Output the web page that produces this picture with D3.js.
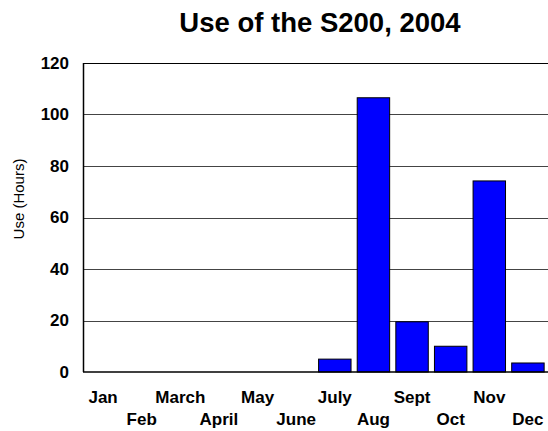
<!DOCTYPE html>
<html>
<head>
<meta charset="utf-8">
<script src="https://cdn.jsdelivr.net/npm/d3@7"></script>
<style>
  body { margin: 0; background: #fff; }
  svg { display: block; font-family: Arial, "Liberation Sans", sans-serif; }
</style>
</head>
<body>
<svg id="chart" width="548" height="431"></svg>
<script>
// chart data
let months = ['Jan', 'Feb', 'March', 'April', 'May', 'June', 'July', 'Aug', 'Sept', 'Oct', 'Nov', 'Dec'];
let hours = [0, 0, 0, 0, 0, 0, 5, 106.5, 19.5, 10, 74.2, 3.5];
let yTicks = [0, 20, 40, 60, 80, 100, 120];

var margin = {top: 63, right: 0, bottom: 59, left: 83},
    width = 548 - margin.left - margin.right,
    height = 431 - margin.top - margin.bottom;

var svg = d3.select('#chart');

var x = d3.scaleBand().domain(months).range([0, width]).paddingInner(0.16).paddingOuter(0.1);
var y = d3.scaleLinear().domain([0, 120]).range([height, 0]);

var g = svg.append('g')
  .attr('transform', 'translate(' + margin.left + ',' + margin.top + ')');

// horizontal grid lines
g.selectAll('.grid')
  .data(yTicks.filter(d => d > 0))
  .enter().append('line')
  .attr('class', 'grid')
  .attr('x1', 0)
  .attr('x2', width)
  .attr('y1', d => Math.round(y(d)) + 0.5)
  .attr('y2', d => Math.round(y(d)) + 0.5)
  .attr('stroke', d => d == 120 ? '#000' : '#444')
  .attr('stroke-width', 1);

// bars
g.selectAll('.bar')
  .data(months)
  .enter().append('rect')
  .attr('class', 'bar')
  .attr('x', (d, i) => x(d))
  .attr('width', x.bandwidth())
  .attr('y', (d, i) => y(hours[i]))
  .attr('height', (d, i) => height - y(hours[i]))
  .attr('fill', '#0000ff')
  .attr('stroke', '#000')
  .attr('stroke-width', 1);

// axes lines
g.append('line')
  .attr('x1', 0.5).attr('x2', 0.5)
  .attr('y1', 0).attr('y2', height)
  .attr('stroke', '#000').attr('stroke-width', 1.5);
g.append('line')
  .attr('x1', 0).attr('x2', width)
  .attr('y1', height).attr('y2', height)
  .attr('stroke', '#000').attr('stroke-width', 1.5);

// y tick labels
var yAxis = d3.axisLeft(y).tickValues(yTicks).tickSize(0).tickPadding(14);
g.append('g')
  .call(yAxis)
  .call(a => a.select('.domain').remove())
  .selectAll('text')
  .attr('font-size', 17)
  .attr('font-weight', 'bold')
  .attr('font-family', 'Arial, "Liberation Sans", sans-serif')
  .attr('fill', '#000');

// x tick labels, staggered on two rows
var xAxis = d3.axisBottom(x).tickSize(0).tickPadding(0);
g.append('g')
  .attr('transform', 'translate(0,' + height + ')')
  .call(xAxis)
  .call(a => a.select('.domain').remove())
  .selectAll('text')
  .attr('font-size', 17)
  .attr('font-weight', 'bold')
  .attr('font-family', 'Arial, "Liberation Sans", sans-serif')
  .attr('fill', '#000')
  .attr('dy', null)
  .attr('y', (d, i) => i % 2 == 0 ? 31 : 53);

// title
svg.append('text')
  .attr('x', 320)
  .attr('y', 32)
  .attr('text-anchor', 'middle')
  .attr('font-size', 27.5)
  .attr('font-weight', 'bold')
  .text('Use of the S200, 2004');

// y axis label
svg.append('text')
  .attr('transform', 'translate(24,199) rotate(-90)')
  .attr('text-anchor', 'middle')
  .attr('font-size', 15)
  .text('Use (Hours)');
</script>
</body>
</html>
